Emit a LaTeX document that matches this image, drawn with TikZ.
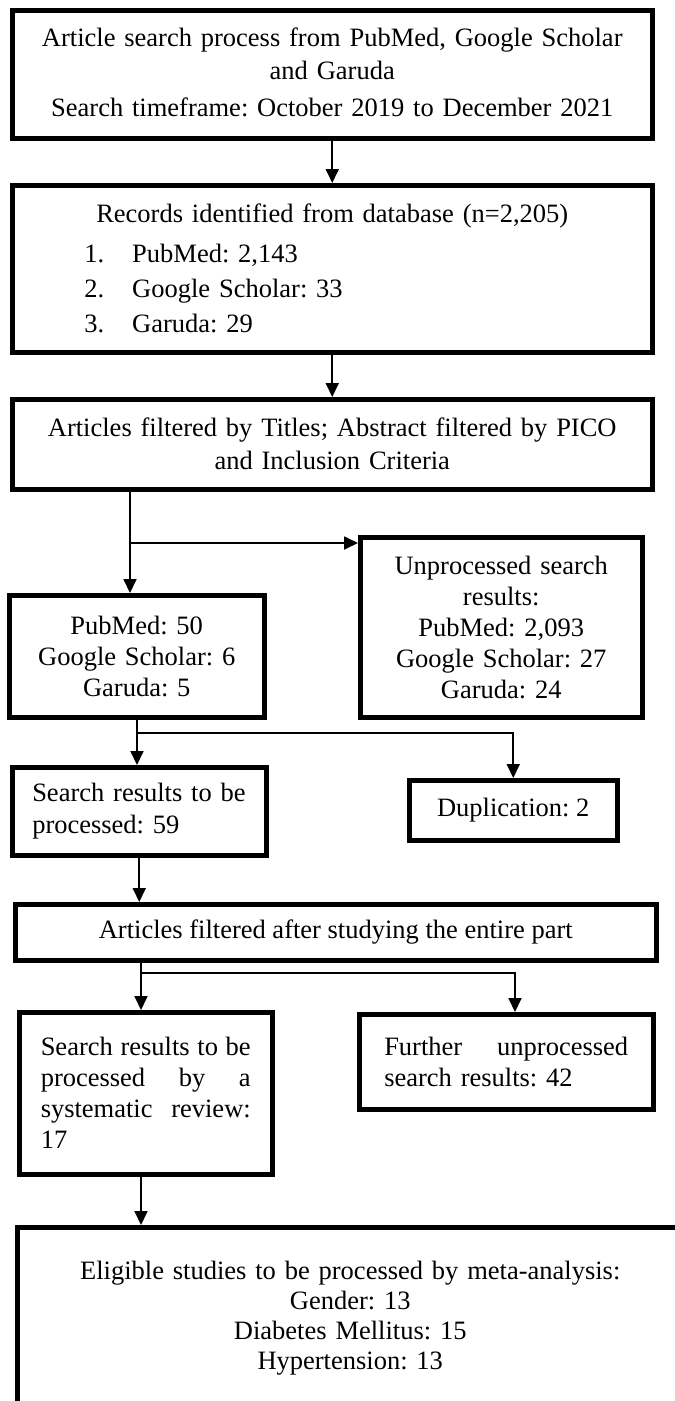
\documentclass[tikz,border=0pt]{standalone}
\usepackage{fontspec}
\setmainfont{Liberation Serif}
\usetikzlibrary{arrows.meta}
\newcommand\fsz{\fontsize{26.5pt}{31pt}\selectfont\frenchspacing}
\begin{document}
\frenchspacing
\begin{tikzpicture}[x=1pt,y=-1pt,
  box/.style={draw, line width=4.5pt, inner sep=0pt, anchor=north west, font=\fsz},
  conn/.style={line width=1.8pt},
  arr/.style={conn, -{Triangle[length=14pt,width=13pt]}}
]
\useasboundingbox (0,0) rectangle (675,1401);
\clip (0,0) rectangle (675,1401);

\node[box, minimum width=640pt, minimum height=128pt, text width=630pt, align=center,
  font=\fontsize{26.5pt}{33pt}\selectfont\frenchspacing] (b1) at (10,8)
  {Article search process from PubMed, Google Scholar\\ and Garuda\\[4pt] Search timeframe: October 2019 to December 2021\\[-28pt]\mbox{}};

\node[box, minimum width=640pt, minimum height=167pt, text width=600pt, align=left,
  font=\fontsize{26.5pt}{35pt}\selectfont\frenchspacing] (b2) at (10,183)
  {\makebox[\linewidth][c]{Records identified from database (n=2,205)}\\[5pt]
   \hspace*{52pt}\makebox[48pt][l]{1.}PubMed: 2,143\\
   \hspace*{52pt}\makebox[48pt][l]{2.}Google Scholar: 33\\
   \hspace*{52pt}\makebox[48pt][l]{3.}Garuda: 29};

\node[box, minimum width=640pt, minimum height=90pt, text width=630pt, align=center,
  font=\fontsize{26.5pt}{33pt}\selectfont\frenchspacing] (b3) at (10,397)
  {Articles filtered by Titles; Abstract filtered by PICO\\ and Inclusion Criteria};

\node[box, minimum width=282pt, minimum height=180pt, text width=272pt, align=center] (b5) at (358,535)
  {Unprocessed search\\ results:\\ PubMed: 2,093\\ Google Scholar: 27\\ Garuda: 24};

\node[box, minimum width=255pt, minimum height=122pt, text width=245pt, align=center] (b4) at (7,593)
  {PubMed: 50\\ Google Scholar: 6\\ Garuda: 5};

\node[box, minimum width=254pt, minimum height=88pt, text width=214pt, align=left,
  font=\fontsize{26.5pt}{32pt}\selectfont\frenchspacing] (b6) at (10,765)
  {Search results to be\\ processed: 59};

\node[box, minimum width=208pt, minimum height=60pt] (dup) at (407,778) {Duplication: 2};

\node[box, minimum width=641pt, minimum height=56pt] (b7) at (13,902)
  {Articles filtered after studying the entire part};

\node[box, minimum width=253pt, minimum height=162pt, text width=210pt, align=left] (b8) at (17,1010)
  {\makebox[\linewidth][s]{Search\hfill results\hfill to\hfill be}\\
   \makebox[\linewidth][s]{processed\hfill by\hfill a}\\
   \makebox[\linewidth][s]{systematic\hfill review:}\\
   17};

\node[box, minimum width=294pt, minimum height=95pt, text width=244pt, align=left] (b9) at (357,1012)
  {\makebox[\linewidth][s]{Further\hfill unprocessed}\\ search results: 42};

\node[box, minimum width=666pt, minimum height=182pt, text width=640pt, align=center,
  font=\fontsize{26.5pt}{30pt}\selectfont\frenchspacing] (b10) at (15,1225)
  {Eligible studies to be processed by meta-analysis:\\ Gender: 13\\ Diabetes Mellitus: 15\\ Hypertension: 13};

% connectors
\coordinate (p3) at (130,543);
\coordinate (p4) at (137,733);
\coordinate (p7) at (141,973);
\coordinate (q7) at (515,973);

\draw[arr] (b1.south) -- (b2.north);
\draw[arr] (b2.south) -- (b3.north);
\draw[arr] (b3.south -| p3) -- (p3 |- b4.north);
\draw[arr] (p3) -- (p3 -| b5.west);
\draw[arr] (b4.south -| p4) -- (p4 |- b6.north);
\draw[arr] (p4) -| (dup.north);
\draw[arr] (b6.south) -- (b6.south |- b7.north);
\draw[arr] (b7.south -| p7) -- (p7 |- b8.north);
\draw[arr] (p7) -- (q7) -- (q7 |- b9.north);
\draw[arr] (b8.south -| p7) -- (p7 |- b10.north);
\end{tikzpicture}
\end{document}
